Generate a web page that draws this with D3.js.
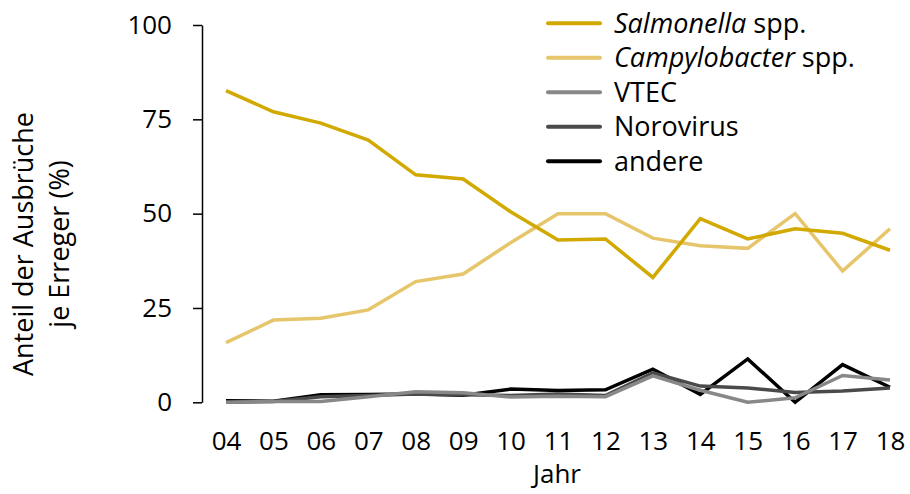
<!DOCTYPE html>
<html><head><meta charset="utf-8">
<script src="https://cdn.jsdelivr.net/npm/d3@7"></script>
<style>body{margin:0;background:#fff}svg{display:block;font-family:"Open Sans",sans-serif}</style>
</head><body><svg id="c" width="910" height="494"></svg>
<script>
const years = ["04","05","06","07","08","09","10","11","12","13","14","15","16","17","18"];
const salmonella = [82.6,77.0,74.0,69.5,60.3,59.2,50.5,43.0,43.3,33.1,48.7,43.3,46.0,44.8,40.3];
const campylobacter = [15.8,21.8,22.3,24.5,32.0,34.0,42.3,50.0,50.0,43.5,41.5,40.8,50.0,34.8,46.0];
const vtec = [0,0.2,0.2,1.5,2.8,2.5,1.4,1.6,1.5,7.0,3.2,0,1.2,7.1,5.9];
const norovirus = [0,0.2,1.5,1.8,2.2,2.0,1.8,2.2,1.8,7.8,4.3,3.8,2.6,3.0,3.8];
const andere = [0.4,0.3,2.0,2.1,2.2,1.9,3.5,3.1,3.3,8.8,2.1,11.5,0,10.0,4.0];
const yTicks = [0,25,50,75,100];
const seriesNames = ["Salmonella","Campylobacter","VTEC","Norovirus","andere"];
const colors = ["#d2a900","#e6c56b","#888888","#4a4a4a","#000000"];

const series = [salmonella,campylobacter,vtec,norovirus,andere].map((v,i)=>({name:seriesNames[i],color:colors[i],values:v}));

const svg = d3.select("#c");
const x = d3.scalePoint().domain(years).range([226,890]);
const y = d3.scaleLinear().domain([0,100]).range([402.3,25]);
const fs = 26, fs2 = 27;

// y axis
const ya = svg.append("g").attr("transform","translate(202,0)")
  .call(d3.axisLeft(y).tickValues(yTicks).tickSize(9).tickSizeOuter(0).tickPadding(21));
ya.selectAll("path,line").attr("stroke","#000").attr("stroke-width",1.5);
ya.selectAll("text").attr("font-size",fs).attr("font-family","Open Sans").attr("fill","#000");

// x axis labels
const xa = svg.append("g").attr("transform","translate(0,420)")
  .call(d3.axisBottom(x).tickSize(0).tickPadding(12));
xa.select(".domain").remove();
xa.selectAll("text").attr("font-size",fs).attr("font-family","Open Sans").attr("fill","#000");

svg.append("text").attr("x",557).attr("y",483).attr("text-anchor","middle")
  .attr("font-size",fs).text("Jahr");

// y title
const yt = svg.append("text").attr("transform","translate(0,244) rotate(-90)")
  .attr("text-anchor","middle").attr("font-size",fs2);
yt.append("tspan").attr("x",0).attr("y",33).text("Anteil der Ausbrüche");
yt.append("tspan").attr("x",0).attr("y",69).text("je Erreger (%)");

// lines
const line = d3.line().x((d,i)=>x(years[i])).y(d=>y(d));
svg.append("g").selectAll("path").data(series.slice().reverse()).join("path")
  .attr("d",d=>line(d.values)).attr("fill","none").attr("stroke",d=>d.color)
  .attr("stroke-width",3.5).attr("stroke-linejoin","miter");

// legend
const lg = svg.append("g");
const rowY = d3.scalePoint().domain(seriesNames).range([23.3,161.3]);
series.forEach(s=>{
  const g = lg.append("g").attr("transform",`translate(0,${rowY(s.name)})`);
  g.append("line").attr("x1",548).attr("x2",600).attr("stroke",s.color).attr("stroke-width",4).attr("stroke-linecap","round");
  const t = g.append("text").attr("x",614).attr("dy","0.35em").attr("font-size",fs2);
  if (s.name==="Salmonella"||s.name==="Campylobacter"){
    t.append("tspan").attr("font-style","italic").text(s.name);
    t.append("tspan").text(" spp.");
  } else t.text(s.name);
});
</script></body></html>
